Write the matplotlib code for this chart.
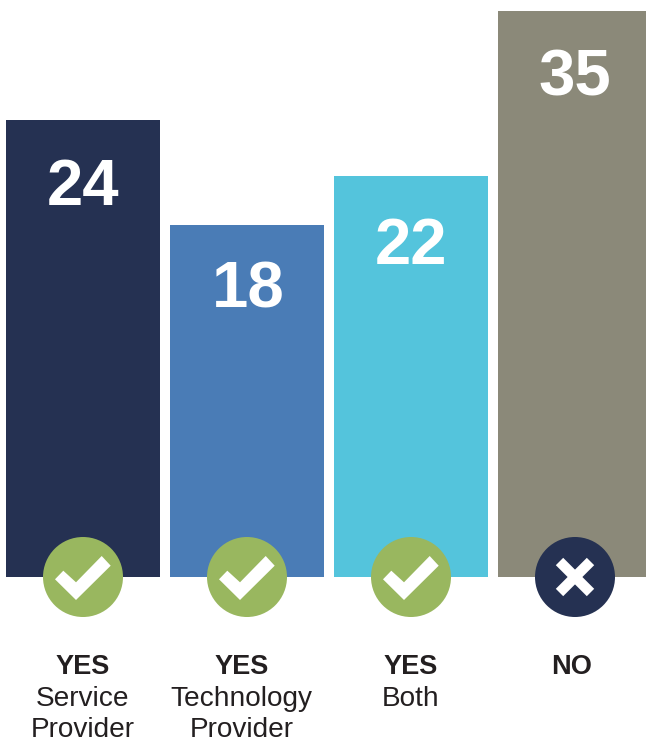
import matplotlib
matplotlib.use("Agg")
import matplotlib.pyplot as plt
from matplotlib.patches import Circle, Polygon

W, H = 646, 740
heights = [457, 352, 401, 566]
values = [24, 18, 22, 35]
lefts = [6, 170, 334, 498]
widths = [154, 154, 154, 148]
colors = ["#253152", "#4A7CB6", "#54C4DC", "#8B8979"]
label_base = [205, 308, 264, 96]
label_x = [83, 248, 411, 575]
icon_x = [83, 247, 411, 575]
icons = [True, True, True, False]
cat_lines = [["YES", "Service", "Provider"], ["YES", "Technology", "Provider"],
             ["YES", "Both"], ["NO"]]
cat_x = [82.5, 241.5, 411, 572]
check_shape = [(-28, 2.3), (-19.7, -6.3), (-7, 5.3), (18.7, -21), (27.7, -11.3), (-7, 23)]

plt.rcParams["font.family"] = ["Liberation Sans", "DejaVu Sans"]
fig = plt.figure(figsize=(W / 100, H / 100), dpi=100)
ax = fig.add_axes([0, 0, 1, 1])
ax.set_xlim(0, W)
ax.set_ylim(H, 0)
ax.axis("off")
BASE = 577
ax.bar(lefts, heights, width=widths, bottom=[BASE - h for h in heights], align="edge", color=colors, linewidth=0)
for x, y, v in zip(label_x, label_base, values):
    ax.text(x, y, str(v), color="white", fontsize=47, fontweight="bold", ha="center", va="baseline")
for x, ok in zip(icon_x, icons):
    ax.add_patch(Circle((x, BASE), 40, color="#99B75F" if ok else "#253152", lw=0, zorder=3))
    if ok:
        ax.add_patch(Polygon([(x + dx, BASE + dy) for dx, dy in check_shape], closed=True, color="white", lw=0, zorder=4))
    else:
        ax.plot([x - 15.5, x + 15.5], [BASE - 15.5, BASE + 15.5], color="white", lw=7.5, zorder=4, solid_capstyle="butt")
        ax.plot([x - 15.5, x + 15.5], [BASE + 15.5, BASE - 15.5], color="white", lw=7.5, zorder=4, solid_capstyle="butt")
for x, lines in zip(cat_x, cat_lines):
    for i, t in enumerate(lines):
        ax.text(x, 674 + i * 31.5, t, color="#231F20", fontsize=19.5 if i == 0 else 20.2, ha="center", va="baseline",
                fontweight="bold" if i == 0 else "normal")
fig.savefig("out.png", dpi=100)
